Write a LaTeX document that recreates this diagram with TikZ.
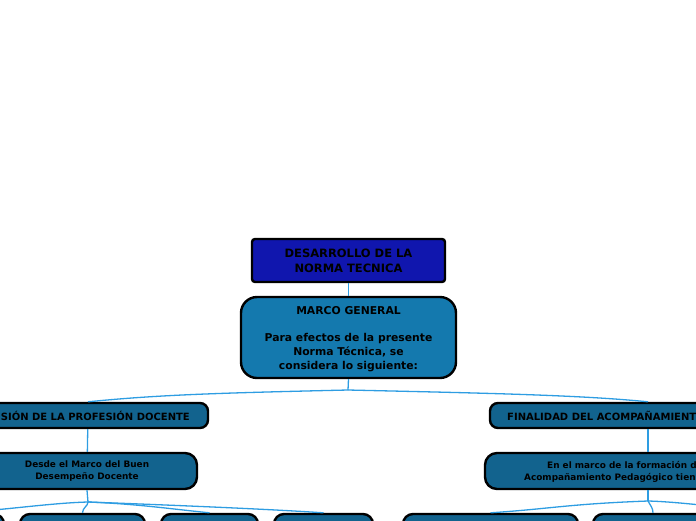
\documentclass[tikz,border=0pt]{standalone}
\usepackage{fontspec}
\setmainfont{DejaVu Sans}
\definecolor{topblue}{HTML}{1016AE}
\definecolor{midblue}{HTML}{1479AE}
\definecolor{darkblue}{HTML}{12638E}
\definecolor{linkblue}{HTML}{2E9DE2}
\tikzset{
  box/.style={draw=black, line width=2.4pt, inner sep=0pt, align=center, font=\bfseries},
  topbox/.style={box, fill=topblue, rounded corners=3pt, minimum width=193pt, minimum height=43pt},
  marcobox/.style={box, fill=midblue, rounded corners=16pt, minimum width=215pt, minimum height=81pt},
  headbox/.style={box, fill=darkblue, rounded corners=8pt, minimum height=25pt},
  descbox/.style={box, fill=darkblue, rounded corners=12pt, minimum height=36pt},
  leafbox/.style={box, fill=darkblue, rounded corners=10pt, minimum height=40pt},
  lbl/.style={inner sep=0pt, align=center, font=\bfseries},
  link/.style={draw=linkblue, line width=1.3pt}
}
\begin{document}
\begin{tikzpicture}[x=1pt,y=-1pt]
\useasboundingbox (0,0) rectangle (696,520);
\clip (0,0) rectangle (696,520);
% nodes
\node[topbox, font=\bfseries\fontsize{11.5}{15}\selectfont] (top) at (348.5,260.5) {DESARROLLO DE LA\\NORMA TECNICA};
\node[marcobox] (marco) at (348.5,337.5) {};
\node[lbl, font=\bfseries\fontsize{10.8}{14}\selectfont] (marcot) at (348.5,339.5) {MARCO GENERAL\\[13pt]Para efectos de la presente\\Norma Técnica, se\\considera lo siguiente:};
\node[headbox, minimum width=240pt] (lh) at (88,415.5) {};
\node[lbl, anchor=east, font=\bfseries\fontsize{10}{12}\selectfont] (lht) at (190,415.5) {SIÓN DE LA PROFESIÓN DOCENTE};
\node[descbox, minimum width=220pt, font=\bfseries\fontsize{8.9}{12}\selectfont] (ld) at (87,471) {Desde el Marco del Buen\\Desempeño Docente};
\node[headbox, minimum width=316pt] (rh) at (648,415.5) {};
\node[lbl, anchor=west, font=\bfseries\fontsize{10}{12}\selectfont] (rht) at (507,415.5) {FINALIDAD DEL ACOMPAÑAMIENT};
\node[descbox, minimum width=326pt] (rd) at (648,471) {};
\node[lbl, anchor=base west, font=\bfseries\fontsize{8.9}{12}\selectfont] (rdt1) at (547,468.5) {En el marco de la formación d};
\node[lbl, anchor=base west, font=\bfseries\fontsize{8.9}{12}\selectfont] (rdt2) at (524,480.5) {Acompañamiento Pedagógico tien};
% bottom row
\node[leafbox, minimum width=104pt] (bz) at (-48,534) {};
\node[leafbox, minimum width=125pt] (ba) at (82.5,534) {};
\node[leafbox, minimum width=97pt] (bb) at (209.5,534) {};
\node[leafbox, minimum width=99pt] (bc) at (323.5,534) {};
\node[leafbox, minimum width=175pt] (bd) at (490.5,534) {};
\node[leafbox, minimum width=120pt] (be) at (653,534) {};
\node[leafbox, minimum width=120pt] (bf) at (790,534) {};
% hubs
\coordinate (hubM) at (348,390);
\coordinate (hubL) at (88,502);
\coordinate (hubR) at (648,501);
% connectors
\draw[link] (top) -- (marco);
\draw[link] (marco.south) -- (hubM);
\draw[link] (hubM) .. controls +(-130,3) and +(70,-7) .. (lh.north);
\draw[link] (hubM) .. controls +(130,3) and +(-70,-7) .. (rh.north);
\draw[link] (lh) -- (ld);
\draw[link] (rh) -- (rd);
\draw[link] (ld.south) -- (hubL);
\draw[link] (hubL) .. controls +(0,4) and +(0,-5) .. (ba.north);
\draw[link] (hubL) .. controls +(-40,1) and +(40,-1) .. (bz.north);
\draw[link] (hubL) .. controls +(50,2) and +(-40,-4) .. (bb.north);
\draw[link] (hubL) .. controls +(80,3) and +(-60,-4) .. (bc.north);
\draw[link] (rd.south) -- (hubR);
\draw[link] (hubR) .. controls +(-80,3) and +(60,-4) .. (bd.north);
\draw[link] (hubR) .. controls +(2,4) and +(0,-5) .. (be.north);
\draw[link] (hubR) .. controls +(40,1) and +(-40,-1) .. (bf.north);
\end{tikzpicture}
\end{document}
